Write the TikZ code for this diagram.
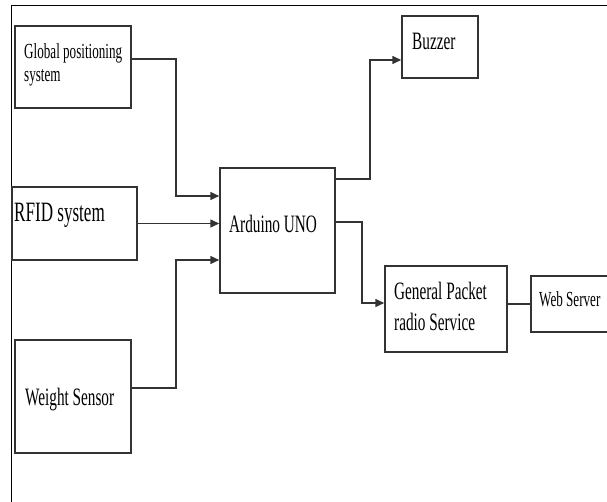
\documentclass[tikz,border=0pt]{standalone}
\usepackage{fontspec}
\setmainfont{Liberation Serif}
\newfontfamily\cond[FakeStretch=0.61]{Liberation Serif}
\usetikzlibrary{arrows.meta}
\begin{document}
\begin{tikzpicture}[x=1pt,y=-1pt,
  box/.style={draw=black!80, line width=1.5pt, inner sep=0pt},
  conn/.style={draw=black!80, line width=1.5pt},
  arr/.style={conn, -{Triangle[length=9pt,width=8pt]}},
  txt/.style={anchor=base west, inner sep=0pt, font=\cond\fontsize{25}{27}\selectfont},
  stxt/.style={txt, font=\cond\fontsize{21.5}{24}\selectfont},
  btxt/.style={txt, font=\cond\fontsize{28}{30}\selectfont}]
\clip (0,0) rectangle (607,502);
\fill[white] (0,0) rectangle (607,502);
\draw[line width=1.6pt] (11.5,502) -- (11.5,5.5) -- (607,5.5);
% boxes
\node[box, minimum width=116pt, minimum height=82pt] (gps) at (73,67) {};
\node[box, minimum width=125pt, minimum height=73pt] (rfid) at (74.5,223.5) {};
\node[box, minimum width=115pt, minimum height=125pt] (ard) at (277.5,230.5) {};
\node[box, minimum width=116pt, minimum height=113pt] (wt) at (73,396.5) {};
\node[box, minimum width=76pt, minimum height=62pt] (buz) at (440,47) {};
\node[box, minimum width=122pt, minimum height=86pt] (gprs) at (446,309) {};
\node[box, minimum width=89pt, minimum height=56pt] (web) at (575.5,304) {};
% texts
\node[stxt] (tgps1) at (24,59) {Global positioning};
\node[stxt] (tgps2) at (24,82) {system};
\node[btxt] (trfid) at (14,222) {RFID system};
\node[txt] (tard) at (229,233) {Arduino UNO};
\node[txt] (tbuz) at (412,50) {Buzzer};
\node[txt] (twt) at (25,405) {Weight Sensor};
\node[txt] (tgprs1) at (394,299) {General Packet};
\node[txt] (tgprs2) at (394,330) {radio Service};
\node[stxt] (tweb) at (539,306) {Web Server};
% connectors
\draw[arr] ([yshift=8pt]gps.east) -- ++(44,0) |- ([yshift=34.5pt]ard.west);
\draw[arr] (rfid.east) -- (rfid.east -| ard.west);
\draw[arr] ([yshift=8.5pt]wt.east) -- ++(44,0) |- ([yshift=-29.5pt]ard.west);
\draw[arr] ([yshift=51.5pt]ard.east) -- ++(34,0) |- ([yshift=-13pt]buz.west);
\draw[arr] ([yshift=8.5pt]ard.east) -- ++(26,0) |- ([yshift=6pt]gprs.west);
\draw[conn] (web.west) -- (web.west -| gprs.east);
\end{tikzpicture}
\end{document}
